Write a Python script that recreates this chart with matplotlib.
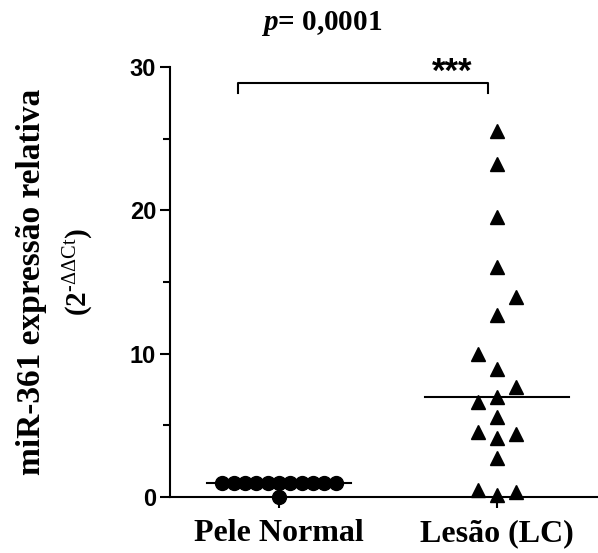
import matplotlib
matplotlib.use('Agg')
import matplotlib.pyplot as plt
import numpy as np

# data
groups = ['Pele Normal', 'Lesão (LC)']
normal_vals = [1.0] * 11 + [0.0]
normal_offsets = [-0.26, -0.208, -0.156, -0.104, -0.052, 0.0, 0.052, 0.104, 0.156, 0.208, 0.26, 0.0]
lesion_vals = [25.56, 23.24, 19.56, 16.07, 13.93, 12.70, 9.98, 8.91, 7.65, 6.65,
               7.0, 5.56, 4.56, 4.10, 4.40, 2.70, 0.49, 0.14, 0.37]
lesion_offsets = [0, 0, 0, 0, 1, 0, -1, 0, 1, -1, 0, 0, -1, 0, 1, 0, -1, 0, 1]
normal_median = 1.0
lesion_median = 7.0
yticks = [0, 10, 20, 30]

plt.rcParams['mathtext.fontset'] = 'custom'
plt.rcParams['mathtext.rm'] = 'Liberation Serif'
plt.rcParams['mathtext.it'] = 'Liberation Serif:italic:bold'
plt.rcParams['mathtext.bf'] = 'Liberation Serif:bold'

fig = plt.figure(figsize=(5.98, 5.53), dpi=100)
ax = fig.add_axes([0.2843, 0.1013, 0.7157, 0.7776])

ax.plot(np.array(normal_offsets), normal_vals, 'o', color='black', ms=10,
        clip_on=False, zorder=3)
ax.plot(np.array(lesion_offsets) * 0.087 + 1, lesion_vals, '^', color='black', ms=10,
        clip_on=False, zorder=3)
ax.plot([-0.33, 0.33], [normal_median] * 2, color='black', lw=1.5, zorder=2)
ax.plot([1 - 0.33, 1 + 0.33], [lesion_median] * 2, color='black', lw=1.5, zorder=2)

# significance bracket
ax.plot([-0.188, -0.188, 0.959, 0.959], [28.19, 28.89, 28.89, 28.19], color='black',
        lw=1.5, clip_on=False)
ax.text(0.794, 29.6, '***', ha='center', va='center', fontsize=25,
        family='Liberation Sans', fontweight='bold')

ax.set_xlim(-0.5, 1.463)
ax.set_ylim(0, 30)
ax.set_xticks([0, 1])
ax.set_xticklabels(groups, family='Liberation Serif', fontweight='bold', fontsize=23)
ax.set_yticks(yticks)
ax.set_yticklabels([str(v) for v in yticks], family='Liberation Sans', fontweight='bold',
                   fontsize=17)
ax.set_yticks([5, 15, 25], minor=True)
ax.tick_params(axis='y', which='major', length=7, width=1.5, direction='out', pad=3)
ax.tick_params(axis='y', which='minor', length=5, width=1.5, direction='out')
ax.tick_params(axis='x', length=8, width=1.5, direction='out', pad=8)
for s in ['top', 'right']:
    ax.spines[s].set_visible(False)
for s in ['left', 'bottom']:
    ax.spines[s].set_linewidth(1.5)

fig.text(0.052, 0.49, 'miR-361 expressão relativa', rotation=90, ha='center', va='center',
         family='Liberation Serif', fontweight='bold', fontsize=24)
fig.text(0.132, 0.508, '(2$^{\\mathrm{\u2010\\Delta\\Delta Ct}}$)', rotation=90, ha='center',
         va='center', family='Liberation Serif', fontweight='bold', fontsize=21)
fig.text(0.538, 0.958, r'$\it{p}$= 0,0001', ha='center', va='center',
         family='Liberation Serif', fontweight='bold', fontsize=21)

fig.savefig('out.png', dpi=100)
